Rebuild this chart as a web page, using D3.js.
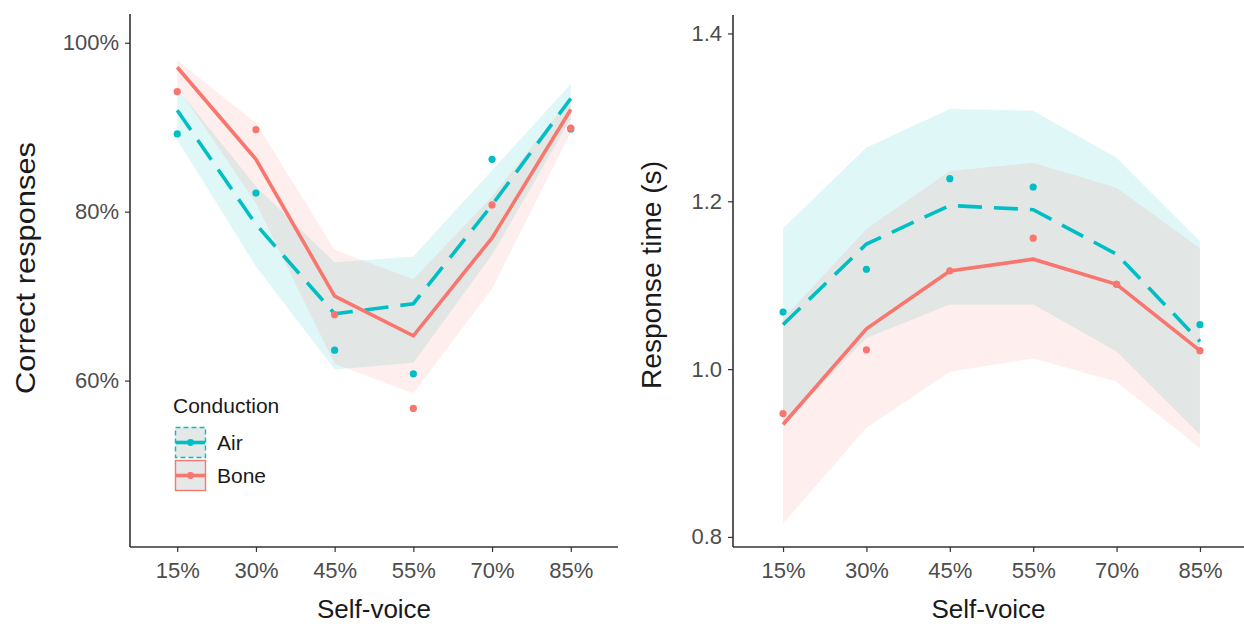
<!DOCTYPE html>
<html>
<head>
<meta charset="utf-8">
<script src="https://cdn.jsdelivr.net/npm/d3@7"></script>
<style>
  body { margin: 0; background: #fff; }
  svg { display: block; font-family: "Liberation Sans", Arial, sans-serif; }
</style>
</head>
<body>
<div id="chart"></div>
<script>
// categories
var selfVoice = ["15%", "30%", "45%", "55%", "70%", "85%"];

// left panel: correct responses (%)
var accAirFit  = [92.0, 78.5, 67.9, 69.1, 80.8, 93.4];
var accBoneFit = [97.1, 86.2, 70.0, 65.3, 76.9, 92.1];
var accAirObs  = [89.2, 82.2, 63.6, 60.8, 86.2, 89.8];
var accBoneObs = [94.2, 89.7, 67.8, 56.7, 80.8, 89.9];
var accAirLo   = [88.5, 73.5, 61.3, 62.1, 74.9, 91.0];
var accAirHi   = [94.6, 83.0, 74.0, 74.7, 84.9, 95.1];
var accBoneLo  = [94.8, 81.0, 62.0, 58.5, 70.9, 89.4];
var accBoneHi  = [97.9, 90.5, 75.5, 72.0, 81.8, 93.5];
var accTicks   = [60, 80, 100];

// right panel: response time (s)
var rtAirFit  = [1.053, 1.149, 1.195, 1.190, 1.137, 1.033];
var rtBoneFit = [0.934, 1.048, 1.117, 1.131, 1.101, 1.022];
var rtAirObs  = [1.068, 1.119, 1.227, 1.217, 1.101, 1.053];
var rtBoneObs = [0.947, 1.023, 1.117, 1.156, 1.101, 1.022];
var rtAirLo   = [0.934, 1.037, 1.077, 1.077, 1.021, 0.922];
var rtAirHi   = [1.168, 1.264, 1.310, 1.308, 1.252, 1.152];
var rtBoneLo  = [0.816, 0.930, 0.997, 1.013, 0.985, 0.906];
var rtBoneHi  = [1.060, 1.167, 1.236, 1.246, 1.216, 1.144];
var rtTicks   = [0.8, 1.0, 1.2, 1.4];

var airCol = "#00BFC4", boneCol = "#F8766D";

var svg = d3.select("#chart").append("svg")
    .attr("width", 1244)
    .attr("height", 624);

function drawPanel(opt) {
    var x = d3.scalePoint().domain(selfVoice).range([opt.x0, opt.x1]).padding(0.6);
    var y = d3.scaleLinear().domain(opt.yDomain).range([547, opt.yTop]);
    var g = svg.append("g");

    var series = [
        {col: airCol, fit: opt.airFit, obs: opt.airObs, lo: opt.airLo, hi: opt.airHi, dash: "24,12"},
        {col: boneCol, fit: opt.boneFit, obs: opt.boneObs, lo: opt.boneLo, hi: opt.boneHi, dash: null}
    ];

    var area = d3.area()
        .x(function(d) { return x(d.c); })
        .y0(function(d) { return y(d.lo); })
        .y1(function(d) { return y(d.hi); });
    var line = d3.line()
        .x(function(d) { return x(d.c); })
        .y(function(d) { return y(d.v); });

    // confidence ribbons
    series.forEach(function(s) {
        var rows = selfVoice.map(function(c, i) { return {c: c, lo: s.lo[i], hi: s.hi[i]}; });
        g.append("path").attr("d", area(rows))
            .attr("fill", s.col).attr("fill-opacity", 0.12);
    });
    // model fits
    series.forEach(function(s) {
        var rows = selfVoice.map(function(c, i) { return {c: c, v: s.fit[i]}; });
        g.append("path").attr("d", line(rows))
            .attr("fill", "none").attr("stroke", s.col)
            .attr("stroke-width", 3.6)
            .attr("stroke-dasharray", s.dash);
    });
    // observed means
    series.forEach(function(s) {
        g.selectAll(null).data(selfVoice).enter().append("circle")
            .attr("cx", function(d) { return x(d); })
            .attr("cy", function(d, i) { return y(s.obs[i]); })
            .attr("r", 3.6)
            .attr("fill", s.col);
    });

    // axes
    var yAxis = g.append("g").attr("transform", "translate(" + opt.x0 + ",0)")
        .call(d3.axisLeft(y).tickValues(opt.ticks).tickFormat(opt.fmt).tickSize(5).tickPadding(6));
    var xAxis = g.append("g").attr("transform", "translate(0,547)")
        .call(d3.axisBottom(x).tickSize(5).tickPadding(10));
    [xAxis, yAxis].forEach(function(a) {
        a.select(".domain").attr("stroke", "#333").attr("stroke-width", 1.6);
        a.selectAll(".tick line").attr("stroke", "#333").attr("stroke-width", 1.2);
        a.selectAll(".tick text").attr("fill", "#4d4d4d")
            .style("font-size", "22px").style("font-family", "'Liberation Sans', Arial, sans-serif");
    });
    yAxis.select(".domain").attr("d", "M0," + 547 + "V" + opt.yTop);
    xAxis.select(".domain").attr("d", "M" + opt.x0 + ",0H" + opt.x1);

    g.append("text")
        .attr("x", (opt.x0 + Math.min(opt.x1, 1244)) / 2)
        .attr("y", 618)
        .attr("text-anchor", "middle")
        .style("font-size", "26px")
        .attr("fill", "#1a1a1a")
        .text("Self-voice");

    g.append("text")
        .attr("transform", "translate(" + opt.titleX + "," + opt.titleY + ") rotate(-90)")
        .attr("text-anchor", "middle")
        .attr("textLength", opt.titleLen)
        .attr("lengthAdjust", "spacingAndGlyphs")
        .style("font-size", "28px")
        .attr("fill", "#1a1a1a")
        .text(opt.title);
}

drawPanel({
    x0: 130, x1: 618, yTop: 14, yDomain: [40.3, 103.4],
    ticks: accTicks, fmt: function(d) { return d + "%"; },
    airFit: accAirFit, boneFit: accBoneFit, airObs: accAirObs, boneObs: accBoneObs,
    airLo: accAirLo, airHi: accAirHi, boneLo: accBoneLo, boneHi: accBoneHi,
    title: "Correct responses", titleX: 35, titleY: 268, titleLen: 252
});

drawPanel({
    x0: 733, x1: 1250, yTop: 15, yDomain: [0.788, 1.422],
    ticks: rtTicks, fmt: d3.format(".1f"),
    airFit: rtAirFit, boneFit: rtBoneFit, airObs: rtAirObs, boneObs: rtBoneObs,
    airLo: rtAirLo, airHi: rtAirHi, boneLo: rtBoneLo, boneHi: rtBoneHi,
    title: "Response time (s)", titleX: 661, titleY: 275, titleLen: 228
});

// legend
var legend = svg.append("g");
legend.append("text").attr("x", 173).attr("y", 413)
    .style("font-size", "21px").attr("fill", "#1a1a1a").text("Conduction");

var keys = [
    {name: "Air", col: airCol, dash: "5,3", y: 427},
    {name: "Bone", col: boneCol, dash: null, y: 460}
];
keys.forEach(function(k) {
    legend.append("rect").attr("x", 175.5).attr("y", k.y + 0.5).attr("width", 30).attr("height", 30)
        .attr("fill", "#e6e8e8").attr("stroke", k.col).attr("stroke-width", 1.4)
        .attr("stroke-dasharray", k.dash);
    legend.append("line").attr("x1", 176).attr("x2", 205).attr("y1", k.y + 15.5).attr("y2", k.y + 15.5)
        .attr("stroke", k.col).attr("stroke-width", 3.6);
    legend.append("circle").attr("cx", 190.5).attr("cy", k.y + 15.5).attr("r", 3.4).attr("fill", k.col);
    legend.append("text").attr("x", 217).attr("y", k.y + 23)
        .style("font-size", "21px").attr("fill", "#1a1a1a").text(k.name);
});
</script>
</body>
</html>
